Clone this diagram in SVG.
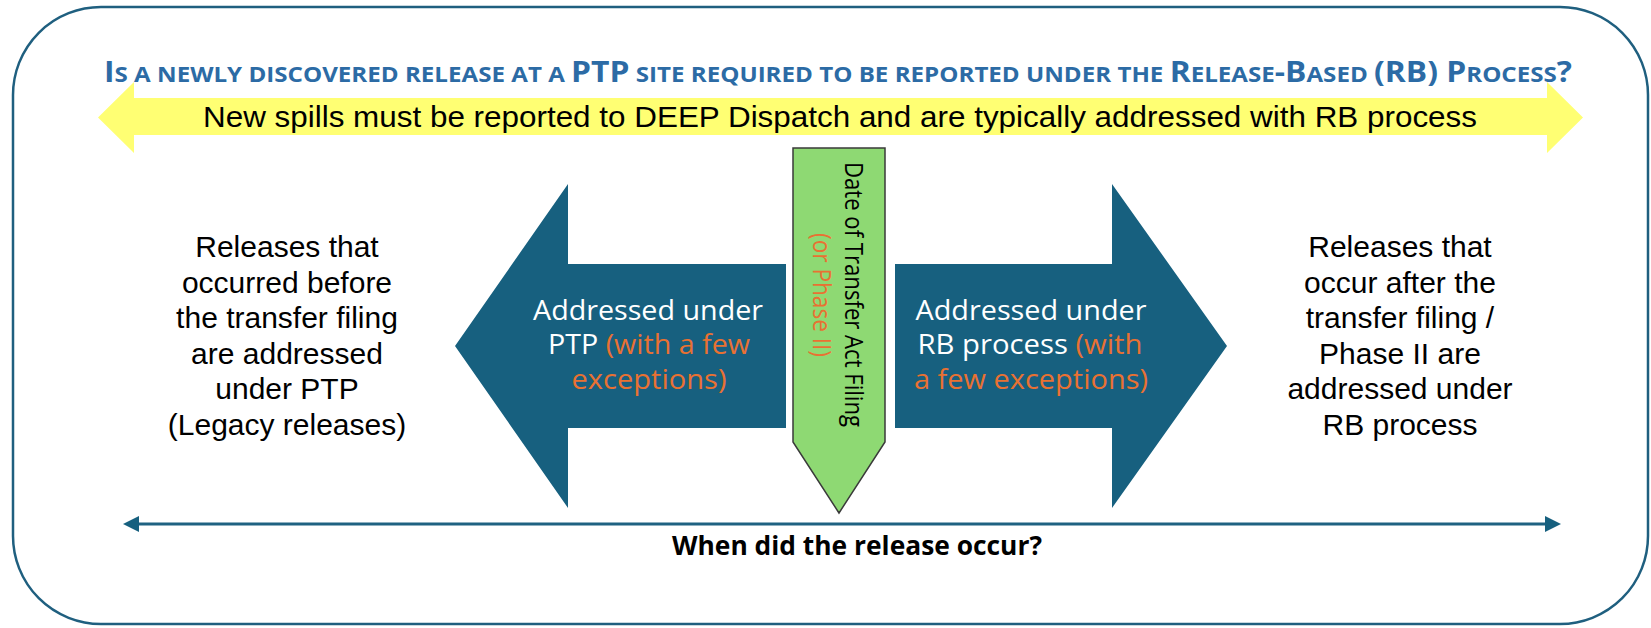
<svg xmlns="http://www.w3.org/2000/svg" width="1651" height="628" viewBox="0 0 1651 628">
<style>
.body{font-family:"Liberation Sans",Arial,sans-serif;font-size:30px;fill:#000;text-anchor:middle}
.arr{font-family:"Open Sans","Liberation Sans",sans-serif;font-size:27px;fill:#fff;text-anchor:middle}
.org{fill:#E97132}
.title{font-family:"Open Sans","Liberation Sans",sans-serif;font-weight:bold;fill:#2C6BA5}
.big{font-size:29px}
.sm{font-size:22px}
.dark{fill:#17607F}
</style>
<defs>
<marker id="ah" viewBox="0 0 16 16" refX="2" refY="8" markerWidth="16" markerHeight="16" markerUnits="userSpaceOnUse" orient="auto-start-reverse">
<path d="M0,0 L16,8 L0,16 Z" fill="#17607F"/>
</marker>
</defs>
<rect x="13" y="7" width="1635" height="617" rx="88" ry="88" fill="#fff" stroke="#1F5F7F" stroke-width="2.5"/>

<g id="title">
<text class="title" x="104" y="82" textLength="1468" lengthAdjust="spacingAndGlyphs"><tspan class="big">I</tspan><tspan class="sm">S A NEWLY DISCOVERED RELEASE AT A </tspan><tspan class="big">PTP</tspan><tspan class="sm"> SITE REQUIRED TO BE REPORTED UNDER THE </tspan><tspan class="big">R</tspan><tspan class="sm">ELEASE</tspan><tspan class="big">-B</tspan><tspan class="sm">ASED </tspan><tspan class="big">(RB) P</tspan><tspan class="sm">ROCESS</tspan><tspan class="big">?</tspan></text>
</g>

<g id="yellow-arrow">
<polygon points="98,117.5 134,82 134,98 1547,98 1547,82 1583,117.5 1547,153 1547,135 134,135 134,153" fill="#FFFF73"/>
<text class="body" x="840" y="127" textLength="1274" lengthAdjust="spacingAndGlyphs">New spills must be reported to DEEP Dispatch and are typically addressed with RB process</text>
</g>

<g id="left-text">
<text class="body" x="287"><tspan x="287" y="257">Releases that</tspan><tspan x="287" y="292.5">occurred before</tspan><tspan x="287" y="328">the transfer filing</tspan><tspan x="287" y="363.5">are addressed</tspan><tspan x="287" y="399">under PTP</tspan><tspan x="287" y="434.5">(Legacy releases)</tspan></text>
</g>

<g id="right-text">
<text class="body" x="1400"><tspan x="1400" y="257">Releases that</tspan><tspan x="1400" y="292.5">occur after the</tspan><tspan x="1400" y="328">transfer filing /</tspan><tspan x="1400" y="363.5">Phase II are</tspan><tspan x="1400" y="399">addressed under</tspan><tspan x="1400" y="434.5">RB process</tspan></text>
</g>

<g id="left-arrow">
<polygon class="dark" points="455,346 568,184 568,264 786,264 786,428 568,428 568,508"/>
<text class="arr" x="648" y="320" textLength="230" lengthAdjust="spacingAndGlyphs">Addressed under</text>
<text class="arr" x="649" y="354" textLength="202" lengthAdjust="spacingAndGlyphs">PTP <tspan class="org">(with a few</tspan></text>
<text class="arr org" x="649" y="389" textLength="155" lengthAdjust="spacingAndGlyphs">exceptions)</text>
</g>

<g id="right-arrow">
<polygon class="dark" points="895,264 1112,264 1112,184 1227,346 1112,508 1112,428 895,428"/>
<text class="arr" x="1031" y="320" textLength="231" lengthAdjust="spacingAndGlyphs">Addressed under</text>
<text class="arr" x="1030" y="354" textLength="225" lengthAdjust="spacingAndGlyphs">RB process <tspan class="org">(with</tspan></text>
<text class="arr org" x="1031" y="389" textLength="234" lengthAdjust="spacingAndGlyphs">a few exceptions)</text>
</g>

<g id="date-marker">
<polygon points="793,148 885,148 885,442 839,513 793,442" fill="#8ED973" stroke="#3A3A3A" stroke-width="1.5"/>
<text transform="translate(845,294.5) rotate(90)" text-anchor="middle" font-family="Open Sans, Liberation Sans, sans-serif" font-size="25" fill="#000" textLength="265" lengthAdjust="spacingAndGlyphs">Date of Transfer Act Filing</text>
<text transform="translate(813,295) rotate(90)" text-anchor="middle" font-family="Open Sans, Liberation Sans, sans-serif" font-size="25" fill="#E97132" textLength="124" lengthAdjust="spacingAndGlyphs">(or Phase II)</text>
</g>

<g id="connectors">
<line x1="137" y1="524" x2="1547" y2="524" stroke="#1F6282" stroke-width="3" marker-start="url(#ah)" marker-end="url(#ah)"/>
</g>

<g id="timeline-label">
<text x="857" y="555" text-anchor="middle" font-family="Open Sans, Liberation Sans, sans-serif" font-weight="bold" font-size="27" fill="#000" textLength="370" lengthAdjust="spacingAndGlyphs">When did the release occur?</text>
</g>
</svg>
